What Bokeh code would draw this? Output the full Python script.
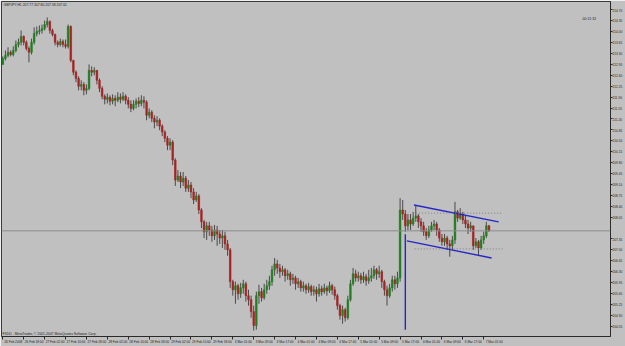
from bokeh.plotting import figure
from bokeh.models import Range1d, FixedTicker, Span, Label, PrintfTickFormatter
from bokeh.embed import file_html
from bokeh.resources import INLINE

symbol = "GBPJPY,H1"
first_open = 212.95
closes = [
    213.14, 213.24, 213.34, 213.27, 213.40, 213.59, 213.66, 213.85, 213.66, 213.46,
    213.34, 213.66, 213.94, 214.01, 214.04, 214.10, 214.23, 214.33, 214.04, 213.91,
    213.66, 213.59, 213.69, 213.59, 213.53, 214.17, 213.08, 212.70, 212.50, 212.25,
    212.31, 212.12, 212.18, 212.76, 212.70, 212.76, 212.44, 212.18, 211.93, 211.83,
    211.90, 211.77, 211.86, 211.80, 211.90, 211.83, 211.93, 211.80, 211.67, 211.54,
    211.67, 211.77, 211.70, 211.80, 211.74, 211.32, 211.42, 211.22, 211.10, 211.16,
    210.97, 210.78, 210.58, 210.36, 210.46, 209.88, 209.24, 209.37, 209.18, 209.30,
    208.98, 209.08, 208.86, 208.60, 208.73, 208.28, 207.90, 207.58, 207.77, 207.64,
    207.45, 207.64, 207.51, 207.38, 207.45, 207.19, 207.00, 205.98, 205.72, 205.85,
    205.59, 205.78, 205.91, 205.53, 205.40, 205.02, 204.57, 205.53, 205.66, 205.46,
    205.72, 205.85, 205.98, 206.36, 206.55, 206.42, 206.30, 206.36, 206.17, 206.23,
    206.04, 206.10, 205.91, 205.98, 205.78, 205.85, 205.72, 205.82, 205.66, 205.72,
    205.59, 205.75, 205.66, 205.78, 205.69, 205.85, 205.72, 205.53, 205.21, 204.89,
    205.08, 204.82, 205.40, 205.91, 206.23, 206.10, 206.17, 206.04, 206.14, 206.01,
    206.10, 206.17, 206.36, 206.23, 206.30, 205.98, 205.72, 205.53, 205.78, 206.04,
    205.91, 206.10, 208.28, 208.15, 207.77, 207.96, 207.83, 208.02, 208.09, 207.90,
    207.77, 207.58, 207.45, 207.64, 207.77, 207.83, 207.64, 207.38, 207.26, 207.38,
    207.19, 207.13, 207.32, 208.22, 208.02, 208.15, 207.96, 207.83, 207.70, 207.77,
    207.13, 207.26, 207.06, 207.32, 207.45, 207.77, 207.61]
highs = [
    213.21, 213.40, 213.50, 213.40, 213.53, 213.72, 213.78, 214.04, 213.88, 213.72,
    213.53, 213.78, 214.14, 214.17, 214.20, 214.23, 214.36, 214.46, 214.36, 214.10,
    213.94, 213.72, 213.78, 213.75, 213.75, 214.23, 214.20, 213.10, 212.76, 212.57,
    212.44, 212.38, 212.31, 212.95, 212.89, 212.86, 212.76, 212.50, 212.25, 211.99,
    212.02, 211.96, 211.99, 211.96, 212.06, 212.02, 212.06, 211.99, 211.90, 211.80,
    211.80, 211.86, 211.90, 211.96, 211.93, 211.80, 211.54, 211.48, 211.32, 211.29,
    211.22, 211.03, 210.84, 210.65, 210.58, 210.52, 209.94, 209.56, 209.50, 209.50,
    209.37, 209.24, 209.18, 208.98, 208.86, 208.79, 208.34, 207.96, 207.90, 207.90,
    207.77, 207.80, 207.77, 207.64, 207.64, 207.58, 207.32, 207.06, 206.04, 205.98,
    205.91, 205.94, 206.04, 205.98, 205.72, 205.53, 205.21, 205.66, 205.88, 205.78,
    205.91, 206.04, 206.17, 206.49, 206.74, 206.68, 206.55, 206.49, 206.42, 206.36,
    206.30, 206.23, 206.17, 206.10, 206.04, 205.98, 205.91, 205.94, 205.88, 205.85,
    205.82, 205.91, 205.85, 205.91, 205.85, 205.98, 205.91, 205.82, 205.59, 205.27,
    205.21, 205.14, 205.53, 206.04, 206.42, 206.36, 206.30, 206.26, 206.30, 206.23,
    206.36, 206.42, 206.49, 206.42, 206.49, 206.36, 206.04, 205.85, 205.91, 206.17,
    206.17, 206.30, 208.66, 208.60, 208.28, 208.15, 208.15, 208.22, 208.41, 208.15,
    208.02, 207.90, 207.70, 207.77, 207.90, 207.96, 207.90, 207.70, 207.51, 207.51,
    207.45, 207.32, 207.45, 208.54, 208.28, 208.34, 208.22, 208.09, 207.96, 207.90,
    207.77, 207.38, 207.32, 207.45, 207.58, 207.90, 207.80]
lows = [
    212.95, 213.08, 213.18, 213.21, 213.21, 213.34, 213.50, 213.56, 213.56, 213.40,
    213.02, 213.27, 213.59, 213.85, 213.91, 213.94, 214.04, 214.14, 213.94, 213.85,
    213.56, 213.50, 213.53, 213.50, 213.46, 213.46, 213.02, 212.60, 212.38, 212.12,
    212.12, 211.96, 211.99, 212.12, 212.57, 212.60, 212.31, 212.06, 211.83, 211.67,
    211.70, 211.64, 211.67, 211.61, 211.74, 211.70, 211.77, 211.67, 211.54, 211.42,
    211.48, 211.54, 211.58, 211.61, 211.54, 211.16, 211.22, 211.10, 210.90, 210.97,
    210.84, 210.65, 210.46, 210.20, 210.20, 209.72, 209.05, 209.18, 208.98, 209.05,
    208.86, 208.86, 208.66, 208.47, 208.54, 208.15, 207.70, 207.38, 207.32, 207.45,
    207.26, 207.32, 207.13, 207.19, 207.06, 207.00, 206.81, 205.78, 205.53, 205.27,
    205.40, 205.46, 205.59, 205.34, 205.21, 204.82, 204.41, 204.44, 205.27, 205.34,
    205.40, 205.59, 205.72, 205.85, 206.17, 206.23, 206.10, 206.17, 205.98, 206.04,
    205.85, 205.91, 205.72, 205.78, 205.66, 205.66, 205.59, 205.62, 205.53, 205.53,
    205.34, 205.50, 205.53, 205.59, 205.53, 205.62, 205.56, 205.40, 205.08, 204.76,
    204.63, 204.70, 204.76, 205.34, 205.85, 205.98, 205.98, 205.91, 205.94, 205.85,
    205.91, 205.98, 206.07, 206.04, 206.10, 205.78, 205.53, 205.21, 205.46, 205.66,
    205.72, 205.78, 205.98, 207.96, 207.58, 207.64, 207.64, 207.77, 207.90, 207.70,
    207.58, 207.45, 207.32, 207.38, 207.58, 207.64, 207.45, 207.26, 207.13, 207.13,
    207.00, 206.78, 207.00, 207.19, 207.90, 207.96, 207.83, 207.70, 207.51, 207.58,
    207.00, 207.06, 206.81, 207.00, 207.19, 207.38, 207.58]

time_labels = [
    "26 Feb 2008", "26 Feb 18:00", "27 Feb 02:00", "27 Feb 10:00", "27 Feb 18:00",
    "28 Feb 02:00", "28 Feb 10:00", "28 Feb 18:00", "29 Feb 02:00", "29 Feb 10:00",
    "29 Feb 18:00", "3 Mar 01:00", "3 Mar 09:00", "3 Mar 17:00", "4 Mar 01:00",
    "4 Mar 09:00", "4 Mar 17:00", "5 Mar 01:00", "5 Mar 09:00", "5 Mar 17:00",
    "6 Mar 01:00", "6 Mar 09:00", "6 Mar 17:00", "7 Mar 01:00"]
bars_per_label = 8

price_ticks = [214.70, 214.35, 214.00, 213.65, 213.30, 212.95, 212.60, 212.25, 211.90,
               211.55, 211.20, 210.85, 210.50, 210.15, 209.80, 209.45, 209.10, 208.75,
               208.40, 208.05, 207.35, 207.00, 206.65, 206.30, 205.95, 205.60,
               205.25, 204.90, 204.55, 204.20]

# drawn objects on the chart (bar index, price)
channel_upper_x = [157.3, 189.7]
channel_upper_y = [208.44, 207.90]
channel_lower_x = [154.6, 187.0]
channel_lower_y = [207.29, 206.74]
vline_x = [154.0, 154.0]
vline_y = [207.50, 204.44]
dot_upper_x = [157.0, 191.0]
dot_upper_y = [208.18, 208.18]
dot_lower_x = [157.6, 192.0]
dot_lower_y = [207.03, 207.03]
countdown = "00:11:32"
copyright_text = "FXDD - MetaTrader, \u00a9 2001-2007 MetaQuotes Software Corp."

opens = [first_open] + closes[:-1]
idx = list(range(len(closes)))
bull = [c >= o for o, c in zip(opens, closes)]
colors = ["#1f7f1f" if b else "#a82222" for b in bull]
tops = [max(o, c) for o, c in zip(opens, closes)]
bots = [min(o, c) for o, c in zip(opens, closes)]

FONT = "Liberation Sans"

p = figure(width=625, height=346, output_backend="svg", toolbar_location=None,
           x_range=Range1d(-0.5, 232.5), y_range=Range1d(204.22, 214.97),
           y_axis_location="right",
           min_border_left=1, min_border_top=1, min_border_right=0, min_border_bottom=0,
           background_fill_color="#c0c0c0", border_fill_color="#c0c0c0")
p.grid.visible = False
p.outline_line_color = "#3a3a3a"
p.outline_line_width = 1

p.add_layout(Span(location=closes[-1], dimension="width", line_color="#8c8c8c", line_width=1))

p.segment(x0=idx, y0=lows, x1=idx, y1=highs, line_color="#4a4a4a", line_width=1)
p.vbar(x=idx, bottom=bots, top=tops, width=0.62, fill_color=colors, line_color=colors, line_width=0.6)

p.line(channel_upper_x, channel_upper_y, line_color="#2626c8", line_width=1.4)
p.line(channel_lower_x, channel_lower_y, line_color="#2626c8", line_width=1.4)
p.line(vline_x, vline_y, line_color="#2626c8", line_width=1.4)
p.line(dot_upper_x, dot_upper_y, line_color="#7c7c8c", line_width=1, line_dash="1 2")
p.line(dot_lower_x, dot_lower_y, line_color="#7c7c8c", line_width=1, line_dash="1 2")

ya = p.yaxis[0]
ya.ticker = FixedTicker(ticks=price_ticks, minor_ticks=[])
ya.formatter = PrintfTickFormatter(format="%.2f")
ya.major_label_text_font = FONT
ya.major_label_text_font_size = "3.2px"
ya.major_label_text_color = "#202020"
ya.major_label_standoff = 0
ya.major_tick_out = 2
ya.major_tick_in = 0
ya.axis_line_color = "#2a2a2a"
ya.major_tick_line_color = "#2a2a2a"

xa = p.xaxis[0]
tick_pos = [bars_per_label * k + 4 for k in range(len(time_labels))]
sep_pos = [bars_per_label * k for k in range(len(time_labels))]
xa.ticker = FixedTicker(ticks=tick_pos, minor_ticks=sep_pos)
xa.major_label_overrides = {t: lab for t, lab in zip(tick_pos, time_labels)}
xa.major_label_text_font = FONT
xa.major_label_text_font_size = "3.2px"
xa.major_label_text_color = "#202020"
xa.major_label_standoff = 0
xa.major_tick_out = 0
xa.major_tick_in = 0
xa.minor_tick_out = 3
xa.minor_tick_in = 0
xa.minor_tick_line_color = "#2a2a2a"
xa.axis_line_color = "#2a2a2a"

title_text = f"{symbol}  {opens[-1]:.2f} {highs[-1]:.2f} {lows[-1]:.2f} {closes[-1]:.2f}"
p.add_layout(Label(x=2, y=332, x_units="screen", y_units="screen", text=title_text,
                   text_font=FONT, text_font_size="3.4px", text_color="#202020",
                   text_baseline="middle"))
p.add_layout(Label(x=1, y=3, x_units="screen", y_units="screen", text=copyright_text,
                   text_font=FONT, text_font_size="3.4px", text_color="#202020",
                   text_baseline="middle"))
p.add_layout(Label(x=581, y=318, x_units="screen", y_units="screen", text=countdown,
                   text_font=FONT, text_font_size="3.6px", text_color="#202020",
                   text_baseline="middle"))
p.add_layout(Label(x=232.7, y=closes[-1], text=f"{closes[-1]:.2f}",
                   text_font=FONT, text_font_size="3.2px", text_color="#e0e0e0",
                   text_baseline="middle", background_fill_color="#000000",
                   padding=1))

open("out.html", "w").write(file_html(p, INLINE))
